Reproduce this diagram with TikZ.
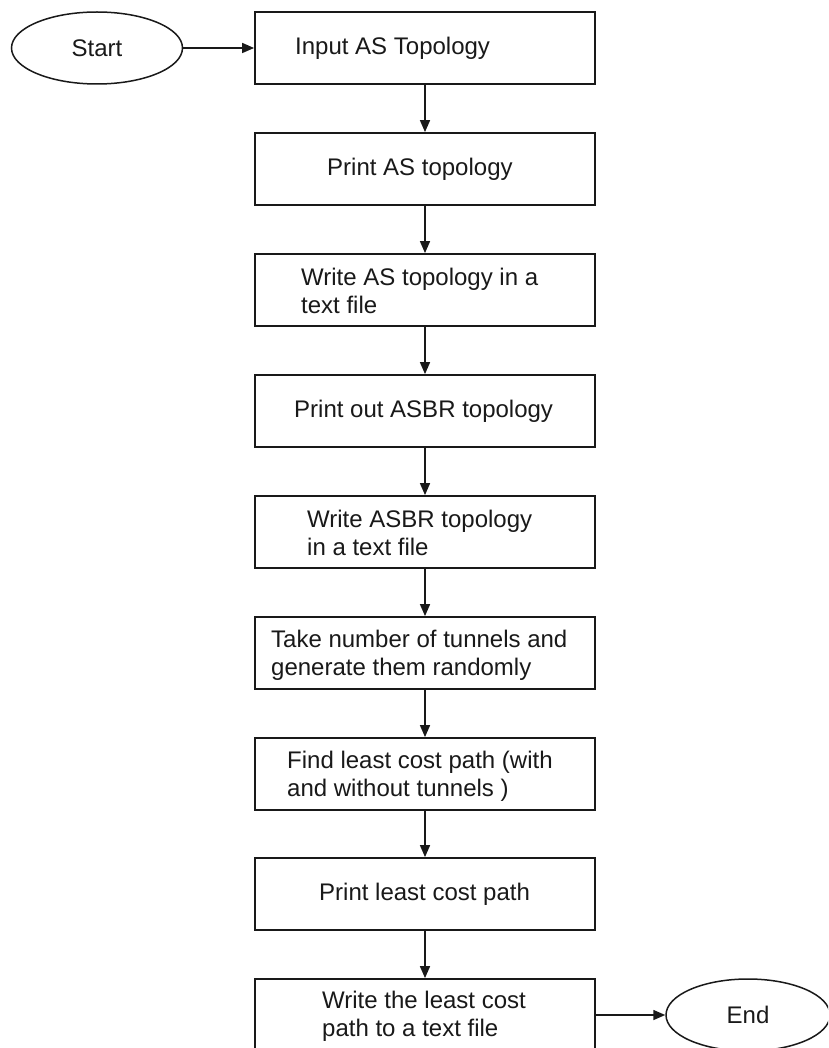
\documentclass[tikz,border=0pt]{standalone}
\usepackage{fontspec}
\setmainfont{Liberation Sans}
\usetikzlibrary{shapes.geometric,arrows.meta}

\tikzset{
  stepbox/.style={draw=black!90, line width=1.8pt, rectangle,
    minimum width=340pt, minimum height=72pt, inner sep=0pt},
  terminal/.style={draw=black!90, line width=1.5pt, ellipse,
    minimum height=72pt, inner sep=0pt, text=black!90,
    font=\fontsize{24}{28}\selectfont},
  steptext/.style={anchor=west, align=left, inner sep=0pt, text=black!90,
    font=\fontsize{24}{28}\selectfont},
  flow/.style={draw=black!90, line width=1.6pt,
    -{Triangle[length=12pt,width=10pt]}}
}

\begin{document}
\begin{tikzpicture}[x=1pt, y=-1pt]
  % page area
  \fill[white] (0,0) rectangle (828,1048);
  \clip (0,0) rectangle (828,1048);
  \useasboundingbox (0,0) rectangle (828,1048);

  % terminals
  \node[terminal, minimum width=171pt] (start) at (97,48) {Start};
  \node[terminal, minimum width=164pt] (finish) at (748,1015) {End};

  % process boxes
  \node[stepbox] (b1) at (425,48) {};
  \node[stepbox] (b2) at (425,169) {};
  \node[stepbox] (b3) at (425,290) {};
  \node[stepbox] (b4) at (425,411) {};
  \node[stepbox] (b5) at (425,532) {};
  \node[stepbox] (b6) at (425,653) {};
  \node[stepbox] (b7) at (425,774) {};
  \node[stepbox] (b8) at (425,894) {};
  \node[stepbox] (b9) at (425,1015) {};

  % box texts
  \node[steptext] (t1) at (295,48) {Input AS Topology};
  \node[steptext] (t2) at (327,169) {Print AS topology};
  \node[steptext] (t3) at (301,291) {Write AS topology in a\\text file};
  \node[steptext] (t4) at (294,411) {Print out ASBR topology};
  \node[steptext] (t5) at (307,533) {Write ASBR topology\\in a text file};
  \node[steptext] (t6) at (271,655) {Take number of tunnels and\\generate them randomly};
  \node[steptext] (t7) at (287,776) {Find least cost path (with\\and without tunnels )};
  \node[steptext] (t8) at (319,894) {Print least cost path};
  \node[steptext] (t9) at (322,1016) {Write the least cost\\path to a text file};

  % connectors
  \draw[flow] (start.east) -- (b1.west);
  \draw[flow] (b1.south) -- (b2.north);
  \draw[flow] (b2.south) -- (b3.north);
  \draw[flow] (b3.south) -- (b4.north);
  \draw[flow] (b4.south) -- (b5.north);
  \draw[flow] (b5.south) -- (b6.north);
  \draw[flow] (b6.south) -- (b7.north);
  \draw[flow] (b7.south) -- (b8.north);
  \draw[flow] (b8.south) -- (b9.north);
  \draw[flow] (b9.east) -- (finish.west);
\end{tikzpicture}
\end{document}
